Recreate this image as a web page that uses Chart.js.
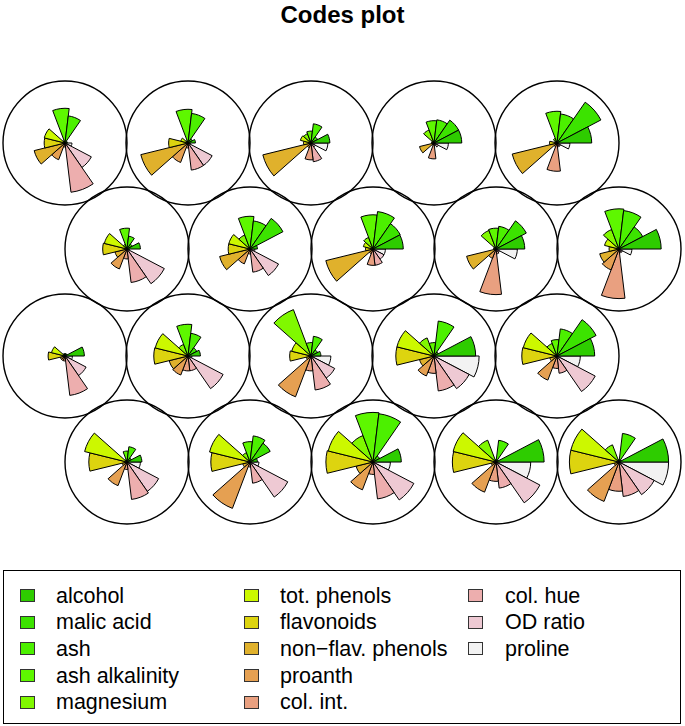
<!DOCTYPE html>
<html>
<head>
<meta charset="utf-8">
<script src="https://cdn.jsdelivr.net/npm/chart.js@4.4.0/dist/chart.umd.min.js"></script>
<style>
body { margin:0; background:#fff; width:685px; height:726px; position:relative; overflow:hidden; font-family:"Liberation Sans", Arial, sans-serif; }
#title { position:absolute; left:0; width:685px; top:3px; text-align:center; font-weight:bold; font-size:24px; line-height:24px; }
canvas.unit { position:absolute; }
#legend { position:absolute; left:3px; top:570px; width:678px; height:154px; border:1px solid #000; box-sizing:border-box; }
.sw { position:absolute; width:15px; height:13px; border:1px solid #333; box-sizing:border-box; }
.lab { position:absolute; font-size:21.5px; line-height:21px; white-space:nowrap; }
</style>
</head>
<body>
<div id="title">Codes plot</div>
<div id="legend"></div>
<script>
// variables, in order counterclockwise from east
const variables = ['alcohol', 'malic acid', 'ash', 'ash alkalinity', 'magnesium',
  'tot. phenols', 'flavonoids', 'non\u2212flav. phenols', 'proanth', 'col. int.',
  'col. hue', 'OD ratio', 'proline'];
const palette = ['#2ECC00', '#3CE300', '#4CF000', '#5EF700', '#80F800', '#CCF800',
  '#DDD40F', '#E0B12C', '#E5A052', '#E9A080', '#EDAEAE', '#EEC9D3', '#F2F2F2'];

// codes per unit (scaled 0..1), rows from top, left to right
const u1  = [0.05, 0.04, 0.55, 0.70, 0.05, 0.43, 0.42, 0.64, 0.36, 0.08, 1.00, 0.60, 0.14];
const u2  = [0.15, 0.10, 0.60, 0.68, 0.05, 0.15, 0.39, 0.98, 0.42, 0.10, 0.55, 0.55, 0.05];
const u3  = [0.38, 0.15, 0.39, 0.24, 0.20, 0.22, 0.15, 1.00, 0.10, 0.34, 0.38, 0.10, 0.34];
const u4  = [0.56, 0.56, 0.47, 0.45, 0.28, 0.05, 0.05, 0.30, 0.05, 0.32, 0.05, 0.10, 0.29];
const u5  = [0.70, 1.00, 0.59, 0.64, 0.10, 0.05, 0.15, 0.93, 0.08, 0.57, 0.08, 0.08, 0.26];
const u6  = [0.27, 0.12, 0.26, 0.42, 0.10, 0.47, 0.49, 0.25, 0.43, 0.20, 0.68, 0.85, 0.05];
const u7  = [0.15, 0.75, 0.57, 0.66, 0.30, 0.44, 0.44, 0.63, 0.32, 0.10, 0.47, 0.65, 0.10];
const u8  = [0.61, 0.62, 0.76, 0.69, 0.25, 0.20, 0.15, 0.98, 0.10, 0.33, 0.33, 0.25, 0.25];
const u9  = [0.58, 0.69, 0.46, 0.42, 0.40, 0.05, 0.05, 0.61, 0.20, 0.92, 0.10, 0.08, 0.43];
const u10 = [0.85, 0.54, 0.78, 0.81, 0.42, 0.30, 0.20, 0.40, 0.45, 1.00, 0.08, 0.08, 0.26];
const u11 = [0.39, 0.05, 0.05, 0.05, 0.05, 0.28, 0.34, 0.10, 0.10, 0.10, 0.80, 0.48, 0.15];
const u12 = [0.25, 0.20, 0.46, 0.64, 0.25, 0.68, 0.69, 0.39, 0.41, 0.30, 0.30, 0.80, 0.08];
const u13 = [0.20, 0.15, 0.40, 0.27, 1.00, 0.40, 0.43, 0.10, 0.88, 0.30, 0.69, 0.54, 0.40];
const u14 = [0.84, 0.10, 0.71, 0.27, 0.39, 0.77, 0.77, 0.30, 0.43, 0.35, 0.71, 0.80, 0.91];
const u15 = [0.76, 0.89, 0.55, 0.33, 0.27, 0.70, 0.71, 0.15, 0.52, 0.25, 0.35, 0.87, 0.47];
const u16 = [0.30, 0.10, 0.31, 0.22, 0.05, 0.88, 0.77, 0.10, 0.51, 0.15, 0.76, 0.72, 0.27];
const u17 = [0.15, 0.46, 0.53, 0.41, 0.20, 0.84, 0.79, 0.15, 1.00, 0.10, 0.43, 0.86, 0.18];
const u18 = [0.57, 0.15, 0.98, 1.00, 0.57, 0.93, 0.95, 0.35, 0.60, 0.25, 0.75, 0.93, 0.35];
const u19 = [0.97, 0.05, 0.44, 0.05, 0.47, 0.89, 0.88, 0.10, 0.65, 0.39, 0.53, 1.00, 0.70];
const u20 = [1.00, 0.05, 0.58, 0.05, 0.37, 1.00, 1.00, 0.10, 0.85, 0.59, 0.70, 0.80, 1.00];

const units = [u1, u2, u3, u4, u5, u6, u7, u8, u9, u10,
  u11, u12, u13, u14, u15, u16, u17, u18, u19, u20];

// hex layout
const rowY = [142.5, 249, 356, 462];
const size = 132;

units.forEach((vals, k) => {
  const row = Math.floor(k / 5), col = k % 5;
  const cx = (row % 2 === 0 ? 65.3 : 127) + 123 * col;
  const cy = rowY[row];
  const cv = document.createElement('canvas');
  cv.className = 'unit';
  cv.width = size; cv.height = size;
  cv.style.left = Math.round(cx - size / 2) + 'px';
  cv.style.top = Math.round(cy - size / 2) + 'px';
  document.body.appendChild(cv);

  // chart.js goes clockwise, R stars go counterclockwise -> reverse
  new Chart(cv, {
    type: 'polarArea',
    data: {
      labels: variables.slice().reverse(),
      datasets: [{
        data: vals.slice().reverse(),
        backgroundColor: palette.slice().reverse(),
        borderColor: '#000',
        borderWidth: 1
      }]
    },
    options: {
      responsive: false,
      animation: false,
      events: [],
      layout: { padding: 4 },
      plugins: { legend: { display: false }, tooltip: { enabled: false } },
      scales: {
        r: {
          min: 0, max: 1.25, startAngle: 90,
          ticks: { display: false, stepSize: 1.25 },
          grid: { color: '#000', lineWidth: 1.4 },
          angleLines: { display: false },
          pointLabels: { display: false }
        }
      }
    }
  });
});

// legend (positions relative to the box)
const legend = document.getElementById('legend');
variables.forEach((name, i) => {
  const col = Math.floor(i / 5), row = i % 5;
  const sw = document.createElement('div');
  sw.className = 'sw';
  sw.style.left = (16 + 224 * col) + 'px';
  sw.style.top = (18 + 26.67 * row) + 'px';
  sw.style.background = palette[i];
  legend.appendChild(sw);
  const lab = document.createElement('div');
  lab.className = 'lab';
  lab.style.left = (52 + 224 * col + (col === 2 ? 1 : 0)) + 'px';
  lab.style.top = (14.5 + 26.67 * row) + 'px';
  lab.textContent = name;
  legend.appendChild(lab);
});
</script>
</body>
</html>
